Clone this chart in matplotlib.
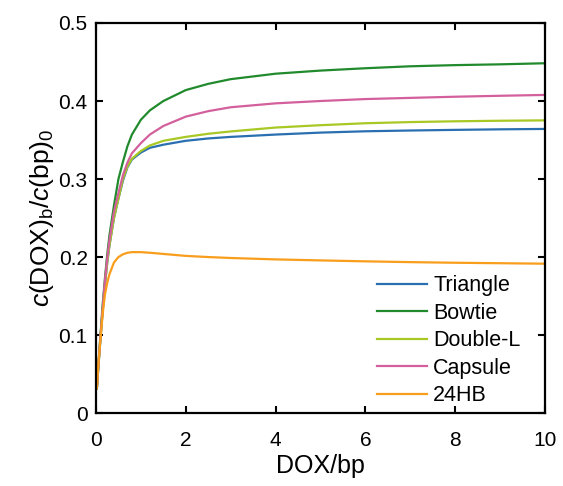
import numpy as np
import matplotlib
matplotlib.use('Agg')
import matplotlib.pyplot as plt

plt.rcParams['font.family'] = 'Liberation Sans'
plt.rcParams['mathtext.fontset'] = 'custom'
plt.rcParams['mathtext.rm'] = 'Liberation Sans'
plt.rcParams['mathtext.it'] = 'Liberation Sans:italic'

# DOX/bp grid the curves were read at
dox = [0.02, 0.05, 0.1, 0.15, 0.2, 0.25, 0.3, 0.4, 0.5, 0.6, 0.7, 0.8, 1.0,
       1.2, 1.5, 2, 2.5, 3, 4, 5, 6, 7, 8, 9, 10]

triangle = [0.032, 0.057, 0.096, 0.132, 0.165, 0.193, 0.215, 0.250, 0.275, 0.298,
            0.315, 0.325, 0.334, 0.340, 0.344, 0.349, 0.352, 0.354, 0.357, 0.3595,
            0.3612, 0.3622, 0.3630, 0.3637, 0.3642]
bowtie = [0.032, 0.060, 0.100, 0.140, 0.173, 0.203, 0.228, 0.266, 0.300, 0.322,
          0.342, 0.357, 0.376, 0.388, 0.400, 0.414, 0.422, 0.428, 0.435, 0.439,
          0.442, 0.4445, 0.446, 0.447, 0.4484]
doublel = [0.032, 0.057, 0.096, 0.132, 0.165, 0.193, 0.215, 0.250, 0.275, 0.300,
           0.316, 0.326, 0.336, 0.343, 0.349, 0.354, 0.358, 0.361, 0.366, 0.369,
           0.3715, 0.373, 0.374, 0.3747, 0.3752]
capsule = [0.032, 0.058, 0.098, 0.135, 0.170, 0.198, 0.222, 0.258, 0.282, 0.305,
           0.321, 0.333, 0.346, 0.357, 0.368, 0.380, 0.387, 0.392, 0.397, 0.400,
           0.4025, 0.404, 0.4055, 0.4067, 0.4078]
hb24 = [0.032, 0.060, 0.095, 0.128, 0.152, 0.167, 0.178, 0.193, 0.200, 0.2035,
        0.2055, 0.2063, 0.2063, 0.2055, 0.204, 0.2015, 0.200, 0.1988, 0.197, 0.1957,
        0.1945, 0.1935, 0.1927, 0.1921, 0.1915]

series = [('Triangle', triangle, '#2a6fb0'),
          ('Bowtie', bowtie, '#218a2c'),
          ('Double-L', doublel, '#a8c824'),
          ('Capsule', capsule, '#d3609c'),
          ('24HB', hb24, '#f99d1c')]

fig = plt.figure(figsize=(5.63, 4.86), dpi=100)
ax = fig.add_axes([0.1705, 0.150, 0.7975, 0.8027])

for name, vals, col in series:
    ax.plot(dox, vals, color=col, lw=1.6, label=name)

ax.set_xlim(0, 10)
ax.set_ylim(0, 0.5)
ax.set_xticks([0, 2, 4, 6, 8, 10])
ax.set_xticklabels(['0', '2', '4', '6', '8', '10'])
ax.set_yticks([0, 0.1, 0.2, 0.3, 0.4, 0.5])
ax.set_yticklabels(['0', '0.1', '0.2', '0.3', '0.4', '0.5'])
ax.tick_params(direction='in', length=5, width=1.5, top=True, right=True,
               labelsize=15, pad=6)
ax.tick_params(axis='x', pad=13)
for s in ax.spines.values():
    s.set_linewidth(1.6)

ax.set_xlabel('DOX/bp', fontsize=18, labelpad=3)
ax.set_ylabel(r'$\mathit{c}$(DOX)$_\mathrm{b}$/$\mathit{c}$(bp)$_0$', fontsize=19, labelpad=2)

ax.legend(loc='lower right', bbox_to_anchor=(0.965, -0.004), frameon=False,
          fontsize=15.5, handlelength=2.3, handletextpad=0.3, labelspacing=0.3,
          borderaxespad=0)

fig.savefig('out.png', dpi=100)
